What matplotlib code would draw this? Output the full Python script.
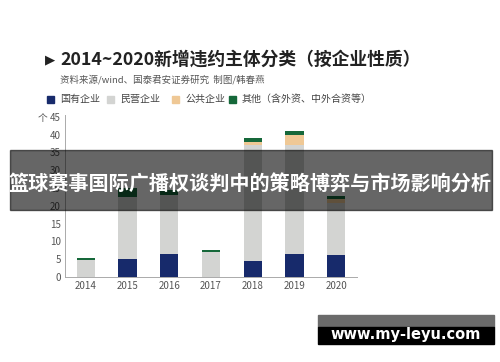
import matplotlib.pyplot as plt
from matplotlib.patches import Rectangle
import numpy as np

plt.rcParams['font.family'] = ['Noto Sans CJK SC', 'DejaVu Sans']

#____Data
years = ['2014', '2015', '2016', '2017', '2018', '2019', '2020']
state_owned = [0, 5, 6.5, 0, 4.5, 6.5, 6.3]
private = [4.8, 17.5, 16.5, 7.1, 32.5, 30.5, 14.5]
public = [0, 0, 0, 0, 1.0, 3.0, 1.0]
other = [0.4, 2.5, 1.5, 0.4, 1.0, 1.0, 1.0]

legend_names = ['国有企业', '民营企业', '公共企业', '其他（含外资、中外合资等）']
colors = ['#172a6b', '#d3d4d2', '#efc895', '#16683a']
y_ticks = [0, 5, 10, 15, 20, 25, 30, 35, 40, 45]

W, H = 500, 362
fig = plt.figure(figsize=(5, 3.62), dpi=100)

ax = fig.add_axes([65 / W, (H - 277) / H, 292 / W, 162 / H])
x = np.arange(len(years))
bottom = np.zeros(len(years))
for vals, c in zip([state_owned, private, public, other], colors):
    ax.bar(x, vals, bottom=bottom, width=0.44, color=c, zorder=2)
    bottom += np.array(vals)

ax.set_xlim(-0.5, 6.5)
ax.set_ylim(0, 45.5)
ax.set_yticks(y_ticks)
ax.set_xticks(x)
ax.set_xticklabels(years)
ax.tick_params(length=0, labelsize=7, colors='#555555', pad=3)
for s in ['top', 'right']:
    ax.spines[s].set_visible(False)
ax.spines['left'].set_color('#aaaaaa')
ax.spines['bottom'].set_color('#aaaaaa')
ax.spines['left'].set_linewidth(0.7)
ax.spines['bottom'].set_linewidth(0.7)
fig.text(38 / W, 1 - 118 / H, '个', fontsize=7, color='#555555', va='center')

# title block
fig.text(45 / W, 1 - 60 / H, '▶', fontsize=9.5, color='#222222', va='center',
         family=['DejaVu Sans'])
fig.text(60 / W, 1 - 60 / H, '2014~2020新增违约主体分类（按企业性质）',
         fontsize=12.8, fontweight='bold', color='#222222', va='center')
fig.text(60 / W, 1 - 80 / H, '资料来源/wind、国泰君安证券研究  制图/韩春燕',
         fontsize=6.8, color='#555555', va='center')

# legend row
leg_x = [47, 107, 172, 229]
for lx, name, c in zip(leg_x, legend_names, colors):
    fig.patches.append(Rectangle((lx / W, 1 - 103 / H), 7 / W, 7 / H,
                                 transform=fig.transFigure, color=c))
    fig.text((lx + 13) / W, 1 - 99 / H, name, fontsize=7.2, color='#444444',
             va='center')

# overlay banner
fig.patches.append(Rectangle((10 / W, 1 - 210 / H), 482 / W, 60 / H,
                             transform=fig.transFigure, color='black',
                             alpha=0.6, zorder=5))
fig.text(250 / W, 1 - 184 / H, '篮球赛事国际广播权谈判中的策略博弈与市场影响分析',
         fontsize=14.5, fontweight='bold', color='white', ha='center',
         va='center', zorder=6)

# watermark
fig.patches.append(Rectangle((318 / W, 1 - 327 / H), 176 / W, 12 / H,
                             transform=fig.transFigure, color='#6b6b6b', zorder=5))
fig.patches.append(Rectangle((318 / W, 1 - 344 / H), 176 / W, 17 / H,
                             transform=fig.transFigure, color='black', zorder=5))
fig.text(406 / W, 1 - 335 / H, 'www.my-leyu.com', fontsize=10.5,
         fontweight='bold', color='white', ha='center', va='center',
         family=['DejaVu Sans'], zorder=6)

fig.savefig('out.png', dpi=100)
